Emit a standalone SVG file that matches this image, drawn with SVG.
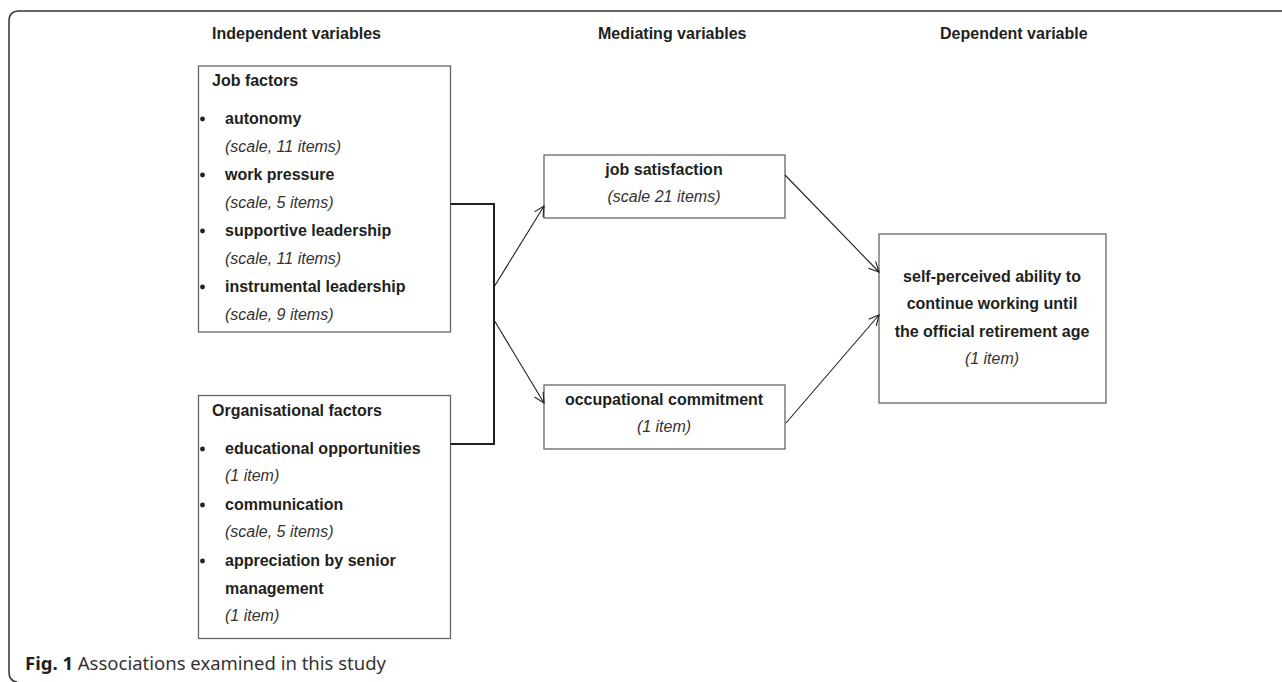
<svg xmlns="http://www.w3.org/2000/svg" width="1282" height="682" viewBox="0 0 1282 682">
<defs>
<style>
text{font-family:"Liberation Sans",Arial,sans-serif;font-size:16px;fill:#231f20}
.b{font-weight:bold}
.i{font-style:italic;fill:#333}
.m{text-anchor:middle}
.box{fill:#fff;stroke:#666;stroke-width:1.3}
.ln{fill:none;stroke:#231f20;stroke-width:1.1}
.br{fill:none;stroke:#231f20;stroke-width:2}
.cap{font-family:"Noto Sans","Open Sans",sans-serif;font-size:18.5px;fill:#333}
</style>
<marker id="ah" viewBox="0 0 12 12" refX="11" refY="6" markerWidth="12" markerHeight="12" markerUnits="userSpaceOnUse" orient="auto">
<path d="M1 1 L11 6 L1 11" fill="none" stroke="#231f20" stroke-width="1.1"/>
</marker>
</defs>
<path d="M1282 11 H19 Q9 11 9 21 V672 Q9 681 17 682" fill="none" stroke="#333" stroke-width="1.5"/>
<text class="b" x="212" y="39">Independent variables</text>
<text class="b" x="598" y="39">Mediating variables</text>
<text class="b" x="940" y="39">Dependent variable</text>
<g id="job-factors">
<rect class="box" x="198.5" y="66" width="252" height="266"/>
<text class="b" x="212" y="86">Job factors</text>
<g fill="#231f20"><circle cx="202.5" cy="119" r="2.4"/><circle cx="202.5" cy="175" r="2.4"/><circle cx="202.5" cy="231" r="2.4"/><circle cx="202.5" cy="287" r="2.4"/></g>
<text class="b" x="225" y="124">autonomy</text>
<text class="i" x="225" y="152">(scale, 11 items)</text>
<text class="b" x="225" y="180">work pressure</text>
<text class="i" x="225" y="208">(scale, 5 items)</text>
<text class="b" x="225" y="236">supportive leadership</text>
<text class="i" x="225" y="264">(scale, 11 items)</text>
<text class="b" x="225" y="292">instrumental leadership</text>
<text class="i" x="225" y="320">(scale, 9 items)</text>
</g>
<g id="organisational-factors">
<rect class="box" x="198.5" y="395.5" width="252" height="243"/>
<text class="b" x="212" y="416">Organisational factors</text>
<g fill="#231f20"><circle cx="202.5" cy="449" r="2.4"/><circle cx="202.5" cy="505" r="2.4"/><circle cx="202.5" cy="561" r="2.4"/></g>
<text class="b" x="225" y="454">educational opportunities</text>
<text class="i" x="225" y="481">(1 item)</text>
<text class="b" x="225" y="510">communication</text>
<text class="i" x="225" y="537">(scale, 5 items)</text>
<text class="b" x="225" y="566">appreciation by senior</text>
<text class="b" x="225" y="594">management</text>
<text class="i" x="225" y="621">(1 item)</text>
</g>
<g id="job-satisfaction">
<rect class="box" x="544" y="155" width="241" height="63"/>
<text class="b m" x="664" y="175">job satisfaction</text>
<text class="i m" x="664" y="202">(scale 21 items)</text>
</g>
<g id="occupational-commitment">
<rect class="box" x="544" y="385" width="241" height="64"/>
<text class="b m" x="664" y="405">occupational commitment</text>
<text class="i m" x="664" y="432">(1 item)</text>
</g>
<g id="self-perceived-ability">
<rect class="box" x="879" y="234" width="227" height="169"/>
<text class="b m" x="992" y="282">self-perceived ability to</text>
<text class="b m" x="992" y="309">continue working until</text>
<text class="b m" x="992" y="337">the official retirement age</text>
<text class="i m" x="992" y="364">(1 item)</text>
</g>
<g id="connectors">
<path class="br" d="M450.5 204 H494 V444 H450.5"/>
<line class="ln" x1="494" y1="287" x2="544" y2="206" marker-end="url(#ah)"/>
<line class="ln" x1="494" y1="320" x2="544" y2="403" marker-end="url(#ah)"/>
<line class="ln" x1="785" y1="175" x2="879" y2="272" marker-end="url(#ah)"/>
<line class="ln" x1="786" y1="423" x2="879" y2="315" marker-end="url(#ah)"/>
</g>
<text class="cap" x="25" y="670"><tspan font-weight="bold" fill="#231f20">Fig. 1</tspan> Associations examined in this study</text>
</svg>
